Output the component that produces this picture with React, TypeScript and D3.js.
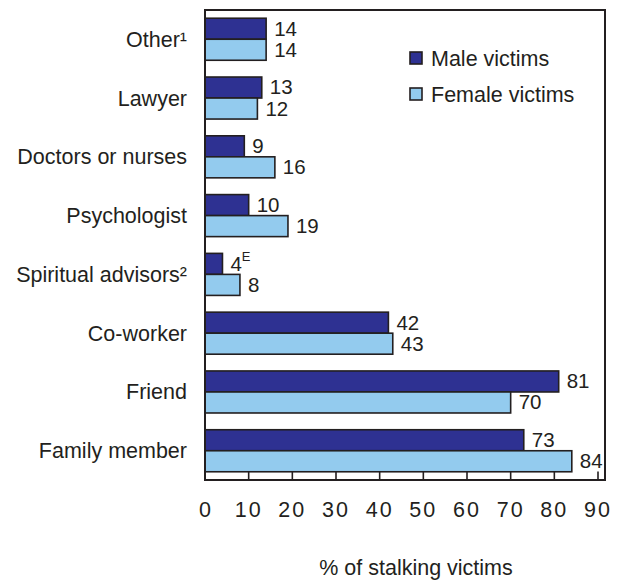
import React from "react";
import * as d3 from "d3";

const categories = ["Other¹", "Lawyer", "Doctors or nurses", "Psychologist", "Spiritual advisors²", "Co-worker", "Friend", "Family member"];
const maleValues = [14, 13, 9, 10, 4, 42, 81, 73];
const femaleValues = [14, 12, 16, 19, 8, 43, 70, 84];
const maleFlags = ["", "", "", "", "E", "", "", ""];
const femaleFlags = ["", "", "", "", "", "", "", ""];
const xTicks = [0, 10, 20, 30, 40, 50, 60, 70, 80, 90];
const seriesNames = ["Male victims", "Female victims"];
const xTitle = "% of stalking victims";

const MALE = "#2e3192";
const FEMALE = "#93cbee";
const INK = "#231f20";
const FONT = "'Liberation Sans', Arial, Helvetica, sans-serif";

export default function App() {
  const W = 617, H = 581;
  const left = 205, right = 605, top = 10, bottom = 480;
  const x = d3.scaleLinear().domain([0, 90]).range([left, 598]);
  const y = d3.scaleBand<string>().domain(categories).range([top, bottom]).paddingInner(0.285).paddingOuter(0.14);
  const sub = d3.scaleBand<string>().domain(["m", "f"]).range([0, y.bandwidth()]);
  const fs = 21.5;
  const vfs = 20.5;

  const rows = categories.map((c, i) => ({ c, m: maleValues[i], f: femaleValues[i], mf: maleFlags[i], ff: femaleFlags[i] }));

  return (
    <svg width={W} height={H} style={{ position: "absolute", left: 0, top: 0, background: "#fff" }} fontFamily={FONT}>
      <rect x={0} y={0} width={W} height={H} fill="#fff" />
      {rows.map((r) => {
        const y0 = y(r.c)!;
        const bars = [
          { k: "m", v: r.m, flag: r.mf, color: MALE },
          { k: "f", v: r.f, flag: r.ff, color: FEMALE },
        ];
        return (
          <g key={r.c}>
            <text x={187} y={y0 + y.bandwidth() / 2} dy="0.35em" textAnchor="end" fontSize={fs} fill={INK}>{r.c}</text>
            {bars.map((b) => {
              const by = y0 + sub(b.k)!;
              const bh = sub.bandwidth();
              return (
                <g key={b.k}>
                  <rect x={x(0)} y={by} width={x(b.v) - x(0)} height={bh} fill={b.color} stroke={INK} strokeWidth={1.6} />
                  <text x={x(b.v) + 8} y={by + bh / 2} dy="0.34em" fontSize={vfs} fill={INK}>
                    {b.v}
                    {b.flag ? <tspan fontSize={13} dy="-0.75em">{b.flag}</tspan> : null}
                  </text>
                </g>
              );
            })}
          </g>
        );
      })}
      {/* frame */}
      <rect x={left} y={top} width={right - left} height={bottom - top} fill="none" stroke={INK} strokeWidth={2} />
      {/* ticks */}
      {xTicks.map((t) => (
        <g key={t}>
          {t > 0 ? <line x1={x(t)} x2={x(t)} y1={bottom} y2={bottom - 8.5} stroke={INK} strokeWidth={1.6} /> : null}
          <text x={x(t)} y={509} dy="0.35em" textAnchor="middle" fontSize={fs} fill={INK} letterSpacing={t >= 10 ? 2 : 0}>{t}</text>
        </g>
      ))}
      <text x={416} y={567} dy="0.35em" textAnchor="middle" fontSize={fs} fill={INK}>{xTitle}</text>
      {/* legend */}
      {seriesNames.map((n, i) => (
        <g key={n} transform={`translate(410, ${52 + i * 36})`}>
          <rect x={0} y={0} width={12} height={12} fill={i === 0 ? MALE : FEMALE} stroke={INK} strokeWidth={1.6} />
          <text x={21} y={6} dy="0.36em" fontSize={fs} fill={INK}>{n}</text>
        </g>
      ))}
    </svg>
  );
}
